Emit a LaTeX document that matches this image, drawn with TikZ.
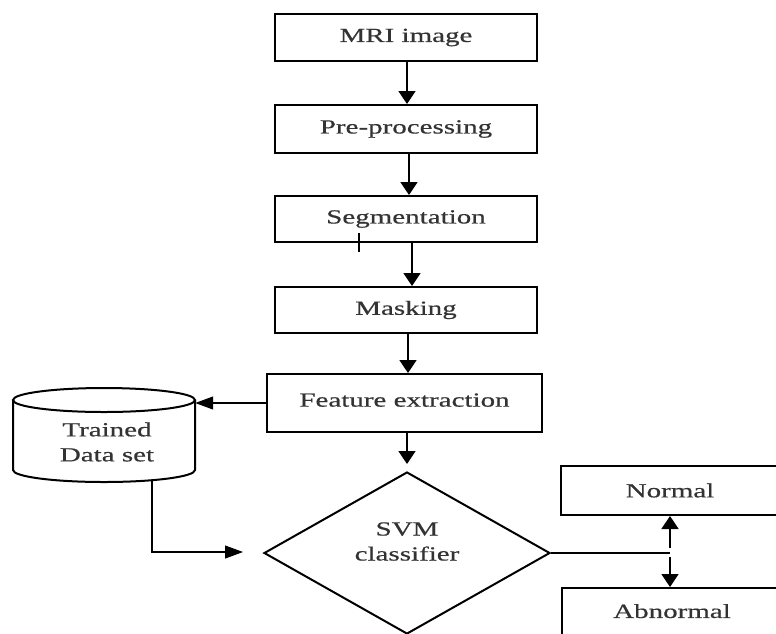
\documentclass[tikz,border=0pt]{standalone}
\usepackage{fontspec}
\setmainfont{Liberation Serif}[FakeStretch=1.45,FakeBold=0.5]
\usetikzlibrary{arrows.meta,shapes.geometric}
\begin{document}
\begin{tikzpicture}[x=1pt,y=-1pt,
  box/.style={draw, line width=2pt, rectangle, inner sep=0pt, text=black!80, font=\fontsize{20}{24}\selectfont},
  arr/.style={line width=1.8pt, -{Triangle[width=17pt,length=13pt]}},
  thinarr/.style={line width=1.1pt, -{Triangle[width=13pt,length=18pt]}},
  thinline/.style={line width=1.1pt},
  lbl/.style={font=\fontsize{20}{25}\selectfont, align=center, text=black!80, inner sep=0pt}]
\useasboundingbox (0,0) rectangle (776,633);
\clip (0,0) rectangle (776,633);
% process boxes
\node[box, minimum width=262pt, minimum height=47pt] (mri) at (406,37.5) {MRI image};
\node[box, minimum width=262pt, minimum height=48pt] (pre) at (406,129) {Pre-processing};
\node[box, minimum width=262pt, minimum height=46pt] (seg) at (406,219) {Segmentation};
\node[box, minimum width=262pt, minimum height=46pt] (mask) at (406,310) {Masking};
\node[box, minimum width=275pt, minimum height=58pt] (fe) at (404.5,403) {\raisebox{6pt}{Feature extraction}};
% stray tick
\draw[thinline] (359,233) -- (359,252);
% database cylinder
\node[minimum width=182pt, minimum height=94pt, inner sep=0pt] (db) at (104,435) {};
\draw[line width=2pt] (104,400) ellipse [x radius=91pt, y radius=12pt];
\draw[line width=2pt] (13,400) -- (13,470) arc[start angle=180, end angle=360, x radius=91pt, y radius=12pt] -- (195,400);
\node[lbl] (dbtext) at (107,442) {Trained\\Data set};
% classifier
\node[draw, diamond, line width=2pt, minimum width=286pt, minimum height=162pt, inner sep=0pt, aspect=1.77] (svm) at (407,553) {};
\node[lbl] (svmtext) at (407,541.5) {SVM\\classifier};
% outputs
\node[box, minimum width=218pt, minimum height=49pt] (normal) at (670,490.5) {Normal};
\node[box, minimum width=220pt, minimum height=48pt] (abn) at (672,612) {\raisebox{2pt}{Abnormal}};
% connectors
\draw[arr] ([xshift=1pt]mri.south) -- ([xshift=1pt]pre.north);
\draw[arr] ([xshift=3pt]pre.south) -- ([xshift=3pt]seg.north);
\draw[arr] ([xshift=6pt]seg.south) -- ([xshift=6pt]mask.north);
\draw[arr] ([xshift=2pt]mask.south) -- ([xshift=3.5pt]fe.north);
\draw[arr] ([xshift=2.5pt]fe.south) -- ([yshift=7pt]svm.north);
\draw[thinarr] (fe.west) -- (fe.west -| db.east);
\coordinate (svmin) at (243,552);
\draw[thinarr] (152,480) |- (svmin);
\coordinate (j) at (670,553);
\draw[thinline] (svm.east) -- (j);
\draw[arr] ([yshift=5pt]j) -- (normal.south);
\draw[arr] ([yshift=-4pt]j) -- ([xshift=-2pt]abn.north);
\end{tikzpicture}
\end{document}
